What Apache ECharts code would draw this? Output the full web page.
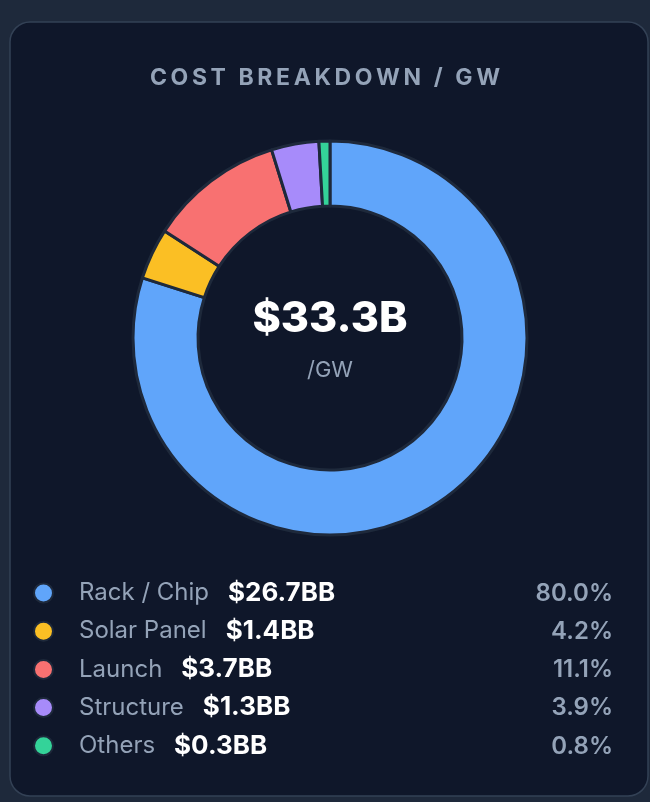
<!DOCTYPE html>
<html>
<head>
<meta charset="utf-8">
<script src="https://cdn.jsdelivr.net/npm/echarts@6/dist/echarts.min.js"></script>
<style>
  html, body { margin: 0; padding: 0; background: #1e293b; }
  #chart { width: 650px; height: 802px; }
</style>
</head>
<body>
<div id="chart"></div>
<script>
// Données du graphique
const categories = ["Rack / Chip", "Solar Panel", "Launch", "Structure", "Others"];
const costs = [26.7, 1.4, 3.7, 1.3, 0.3];            // en milliards $
const pctLabels = ["80.0%", "4.2%", "11.1%", "3.9%", "0.8%"];
const colors = ["#60a5fa", "#fbbf24", "#f87171", "#a78bfa", "#34d399"];
const titleText = "COST BREAKDOWN / GW";
const totalLabel = "$33.3B";
const unitLabel = "/GW";

const FONT = "Inter, 'Noto Sans', sans-serif";
const rowTop = 592, rowGap = 38.2;

const chart = echarts.init(document.getElementById("chart"));

const seriesData = categories.map((name, i) => ({
    name: name,
    value: costs[i],
    itemStyle: { color: colors[i] }
}));

// Titre avec espacement des lettres (chaque caractère = un bloc rich)
const spacedTitle = titleText.split("").map(c => "{c|" + c + "}").join("");

// Colonne des pourcentages (alignée à droite)
const pctTexts = pctLabels.map((p, i) => ({
    type: "text",
    x: 613,
    y: rowTop + 1.5 + i * rowGap,
    style: {
        text: p,
        fill: "#94a3b8",
        font: "600 24px " + FONT,
        textAlign: "right",
        textVerticalAlign: "middle"
    }
}));

const option = {
    backgroundColor: "#1e293b",
    title: [{
        text: spacedTitle,
        left: "center",
        top: 62,
        textStyle: {
            rich: {
                c: { color: "#94a3b8", fontSize: 23, fontWeight: 700, fontFamily: FONT, padding: [0, 1.8, 0, 1.8] }
            }
        }
    }, {
        text: totalLabel,
        left: 325,
        top: 293,
        textAlign: "center",
        textStyle: { color: "#ffffff", fontSize: 43, fontWeight: 800, fontFamily: FONT }
    }, {
        text: unitLabel,
        left: 325,
        top: 354,
        textAlign: "center",
        textStyle: { color: "#94a3b8", fontSize: 22, fontWeight: 400, fontFamily: FONT }
    }],
    graphic: [{
        type: "rect",
        z: -10,
        shape: { x: 10, y: 22, width: 638, height: 774, r: 20 },
        style: { fill: "#0f172a", stroke: "#334155", lineWidth: 1.5 }
    }].concat(pctTexts),
    legend: {
        orient: "vertical",
        left: 28,
        top: rowTop - 17,
        icon: "circle",
        itemWidth: 19,
        itemHeight: 19,
        itemGap: 12.2,
        selectedMode: false,
        data: categories,
        formatter: name => {
            const i = categories.indexOf(name);
            return "{n|" + name + "}{v|$" + costs[i].toFixed(1) + "BB}";
        },
        textStyle: {
            rich: {
                n: { color: "#94a3b8", fontSize: 24, fontFamily: FONT, lineHeight: 28, padding: [0, 0, 0, 21] },
                v: { color: "#ffffff", fontSize: 26, fontWeight: 700, fontFamily: FONT, lineHeight: 28, padding: [0, 0, 0, 19] }
            }
        }
    },
    series: [{
        type: "pie",
        center: [330, 338],
        radius: [132, 197],
        startAngle: 90,
        clockwise: true,
        avoidLabelOverlap: false,
        label: { show: false },
        labelLine: { show: false },
        emphasis: { disabled: true },
        itemStyle: { borderColor: "#1e293b", borderWidth: 3 },
        data: seriesData
    }]
};

chart.setOption(option);
</script>
</body>
</html>
